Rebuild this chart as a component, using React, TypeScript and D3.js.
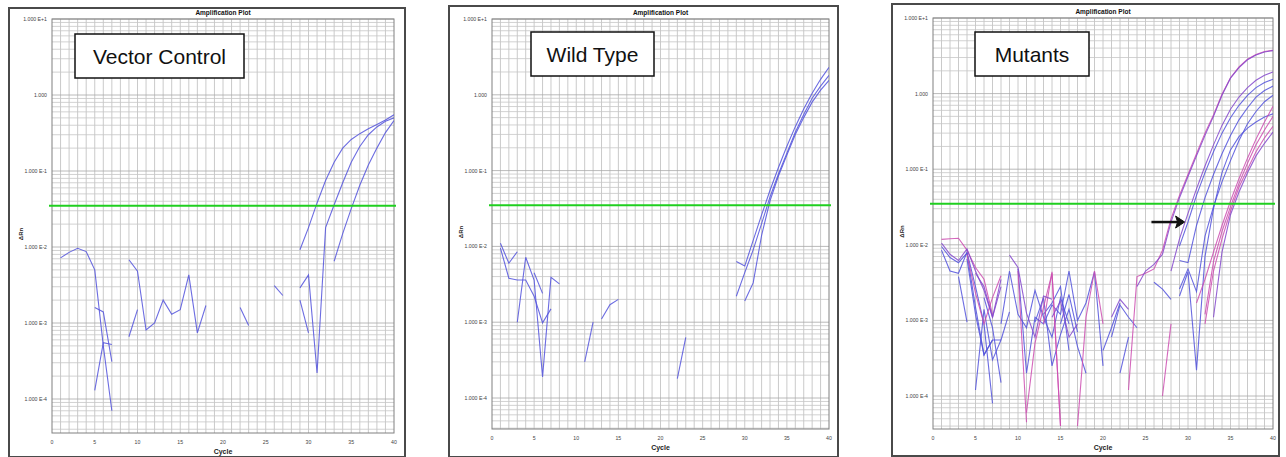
import React from 'react'
import * as d3 from 'd3'

// a segment = [first cycle, ΔRn values for consecutive cycles]
type Seg = [number, number[]]

const xTicks = [0, 5, 10, 15, 20, 25, 30, 35, 40]
const yDecades = [1e1, 1, 1e-1, 1e-2, 1e-3, 1e-4]
const yTickLabels = ['1.000 E+1', '1.000', '1.000 E-1', '1.000 E-2', '1.000 E-3', '1.000 E-4']
const threshold = 0.035

const vectorControlWells: Seg[][] = [
  [[1, [0.0072, 0.0085, 0.0096, 0.0087, 0.005, 0.0005, 0.00007]]],
  [[5, [0.00013, 0.00055, 0.00052]]],
  [[5, [0.0016, 0.0014, 0.00031]]],
  [[9, [0.0068, 0.0048, 0.00081, 0.001, 0.002, 0.0013, 0.0015, 0.0043, 0.00074, 0.0017]]],
  [[9, [0.00066, 0.0015]], [22, [0.0016, 0.00093]]],
  [[26, [0.0031, 0.0023]], [29, [0.002, 0.00074]]],
  [[29, [0.0029, 0.0043, 0.00022, 0.018, 0.036, 0.07, 0.13, 0.21, 0.3, 0.38, 0.45, 0.5]]],
  [[29, [0.0092, 0.018, 0.038, 0.075, 0.13, 0.2, 0.26, 0.31, 0.36, 0.41, 0.47, 0.55]]],
  [[33, [0.0065, 0.015, 0.032, 0.065, 0.12, 0.2, 0.32, 0.46]]],
]

const wildTypeWells: Seg[][] = [
  [[1, [0.011, 0.006, 0.0085]]],
  [[1, [0.0095, 0.0038, 0.0036, 0.0036, 0.0022, 0.00098, 0.0015]]],
  [[3, [0.001, 0.0072, 0.0036, 0.00019, 0.0039, 0.0032]]],
  [[5, [0.0045, 0.0024]], [11, [0.0003, 0.001]]],
  [[13, [0.0011, 0.0017, 0.002]], [22, [0.00018, 0.00063]]],
  [[29, [0.0063, 0.0055, 0.012, 0.026, 0.055, 0.11, 0.21, 0.38, 0.65, 1.05, 1.6, 2.3]]],
  [[29, [0.0022, 0.0045, 0.009, 0.02, 0.045, 0.09, 0.17, 0.32, 0.55, 0.9, 1.3, 1.8]]],
  [[30, [0.0019, 0.0033, 0.014, 0.04, 0.085, 0.16, 0.3, 0.5, 0.8, 1.15, 1.55]]],
]

const mutantBlueWells: Seg[][] = [
  [[1, [0.0085, 0.0045, 0.0042, 0.008, 0.0028, 0.0009, 0.00008]]],
  [[1, [0.0095, 0.0068, 0.0058, 0.0078, 0.0015, 0.00035, 0.00055]]],
  [[3, [0.0038, 0.00095]], [21, [0.0006, 0.0016, 0.0011, 0.0008]]],
  [[4, [0.0065, 0.0012, 0.00035, 0.00055, 0.00055]], [22, [0.0002, 0.0006]]],
  [[5, [0.00012, 0.0014, 0.0003, 0.00055]], [26, [0.0032, 0.0026, 0.0019]]],
  [[10, [0.0048, 0.0002, 0.0011, 0.0009, 0.0016, 0.0012, 0.0045, 0.001, 0.0017, 0.0044, 0.00025]],
    [29, [0.0096, 0.02, 0.045, 0.09, 0.17, 0.3, 0.48, 0.7, 0.95, 1.2, 1.4, 1.55]]],
  [[12, [0.00095, 0.002, 0.00025, 0.00065, 0.0014, 0.00045, 0.0002]],
    [29, [0.0062, 0.0058, 0.018, 0.042, 0.085, 0.16, 0.28, 0.45, 0.65, 0.9, 1.1, 1.26]]],
  [[13, [0.0012, 0.0017, 0.0028, 0.0004]],
    [29, [0.0021, 0.0044, 0.00022, 0.007, 0.03, 0.09, 0.18, 0.27, 0.35, 0.42, 0.49, 0.54]]],
  [[8, [0.00055, 0.0013]],
    [29, [0.0026, 0.0048, 0.0024, 0.013, 0.032, 0.068, 0.13, 0.24, 0.4, 0.58, 0.78, 0.95]]],
  [[8, [0.0009, 0.0045, 0.0012, 0.0008, 0.0025, 0.0011, 0.0006, 0.002, 0.0009]], [20, [0.0004, 0.0008, 0.0017]]],
  [[6, [0.002, 0.0008, 0.00015]], [15, [0.0009, 0.0022, 0.0007]]],
]

const mutantMagentaWells: Seg[][] = [
  [[1, [0.0118, 0.012, 0.0122, 0.0085, 0.005, 0.0035, 0.0012]],
    [31, [0.0017, 0.0035, 0.008, 0.018, 0.038, 0.075, 0.14, 0.25, 0.42, 0.68]]],
  [[4, [0.0075, 0.0023, 0.0009, 0.002, 0.0039]],
    [32, [0.0012, 0.006, 0.015, 0.032, 0.065, 0.12, 0.21, 0.33, 0.5]]],
  [[10, [0.0045, 0.000045]], [32, [0.0009, 0.0045, 0.012, 0.028, 0.058, 0.1, 0.17, 0.26, 0.37]]],
  [[11, [0.00006, 0.0005, 0.0015, 0.0042, 0.00004]], [27, [0.0001, 0.0009]]],
  [[13, [0.0009, 0.0044, 0.00004]], [17, [0.00004, 0.0011, 0.0045, 0.0009]]],
  [[23, [0.00012, 0.0038, 0.0042, 0.0048, 0.0085, 0.022, 0.045, 0.085, 0.16, 0.3, 0.52, 0.98, 1.62, 2.25, 2.85, 3.3, 3.6, 3.75]]],
]

const mutantPurpleWells: Seg[][] = [
  [[1, [0.0105, 0.0075, 0.0062, 0.0088, 0.0045, 0.0025, 0.0011, 0.0028]],
    [24, [0.0028, 0.0045, 0.0055, 0.0075, 0.02, 0.042, 0.08, 0.15, 0.28, 0.5, 0.95, 1.6, 2.2, 2.8, 3.25, 3.55, 3.7]]],
  [[5, [0.0042, 0.0028, 0.0011, 0.0035]],
    [28, [0.0045, 0.012, 0.026, 0.055, 0.11, 0.21, 0.38, 0.62, 0.9, 1.2, 1.5, 1.75, 1.93]]],
  [[9, [0.0073, 0.005, 0.00125, 0.0006, 0.0021, 0.0019]],
    [33, [0.0011, 0.008, 0.025, 0.05, 0.09, 0.15, 0.22, 0.31]]],
  [[14, [0.0011, 0.0018, 0.0006, 0.0009]], [21, [0.0011, 0.0019, 0.0014]]],
]

// arrow in the Mutants plot: points at this cycle / ΔRn
const arrowAt = { fromCycle: 25.7, toCycle: 29.6, value: 0.02 }

const BLUE = '#5252dc'
const MAGENTA = '#cc4cb0'
const PURPLE = '#8448cc'

const panels = [
  {
    id: 'vc', label: 'Vector Control',
    frame: { x0: 9, y0: 8, x1: 405, y1: 457 },
    plot: { left: 52, top: 19, right: 394, bottom: 433, yE4: 399 },
    box: { x0: 75, y0: 34, x1: 244, y1: 78 },
    groups: [{ color: BLUE, wells: vectorControlWells }],
  },
  {
    id: 'wt', label: 'Wild Type',
    frame: { x0: 449, y0: 6, x1: 838, y1: 457 },
    plot: { left: 492, top: 19, right: 829, bottom: 429, yE4: 398 },
    box: { x0: 531, y0: 32, x1: 654, y1: 76 },
    groups: [{ color: BLUE, wells: wildTypeWells }],
  },
  {
    id: 'mu', label: 'Mutants',
    frame: { x0: 892, y0: 4, x1: 1279, y1: 456 },
    plot: { left: 933, top: 18, right: 1273, bottom: 429, yE4: 396 },
    box: { x0: 975, y0: 32, x1: 1089, y1: 76 },
    groups: [
      { color: BLUE, wells: mutantBlueWells },
      { color: MAGENTA, wells: mutantMagentaWells },
      { color: PURPLE, wells: mutantPurpleWells },
    ],
    arrow: true,
  },
]

const FONT = '"Liberation Sans", Arial, sans-serif'

function Panel({ p }: { p: any }) {
  const { plot, frame, box } = p
  const x = d3.scaleLinear().domain([0, 40]).range([plot.left, plot.right])
  const y = d3.scaleLog().domain([1e-4, 10]).range([plot.yE4, plot.top])
  const line = d3.line<[number, number]>().x(d => x(d[0])).y(d => y(d[1]))

  const minor: number[] = []
  for (let k = -5; k <= 0; k++) {
    for (let m = 2; m <= 9; m++) {
      const v = m * Math.pow(10, k)
      if (y(v) < plot.bottom && y(v) > plot.top) minor.push(v)
    }
  }
  const cycleLines = d3.range(1, 40)
  const midY = (plot.top + plot.bottom) / 2 + 8

  return (
    <g>
      <rect x={frame.x0} y={frame.y0} width={frame.x1 - frame.x0} height={frame.y1 - frame.y0}
        fill="#fff" stroke="#4a4a4a" strokeWidth={2} />
      <clipPath id={`clip-${p.id}`}>
        <rect x={plot.left} y={plot.top} width={plot.right - plot.left} height={plot.bottom - plot.top} />
      </clipPath>
      {/* grid */}
      {cycleLines.map(c => (
        <line key={'v' + c} x1={x(c)} x2={x(c)} y1={plot.top} y2={plot.bottom} stroke="#bcbcbc" strokeWidth={0.8} />
      ))}
      {minor.map((v, i) => (
        <line key={'h' + i} x1={plot.left} x2={plot.right} y1={y(v)} y2={y(v)} stroke="#c6c6c6" strokeWidth={0.8} />
      ))}
      {yDecades.map(v => (
        <line key={'d' + v} x1={plot.left} x2={plot.right} y1={y(v)} y2={y(v)} stroke="#a8a8a8" strokeWidth={0.8} />
      ))}
      <rect x={plot.left} y={plot.top} width={plot.right - plot.left} height={plot.bottom - plot.top}
        fill="none" stroke="#808080" strokeWidth={1} />

      {/* amplification traces */}
      <g clipPath={`url(#clip-${p.id})`} fill="none">
        {p.groups.map((g: any, gi: number) =>
          g.wells.map((well: Seg[], wi: number) =>
            well.map(([start, vals], si) => (
              <path key={`${gi}-${wi}-${si}`}
                d={line(vals.map((v, i) => [start + i, v] as [number, number])) || ''}
                stroke={g.color} strokeWidth={1.1} strokeOpacity={0.85} />
            ))
          )
        )}
      </g>

      {/* threshold */}
      <line x1={plot.left - 3} x2={plot.right + 2} y1={y(threshold)} y2={y(threshold)} stroke="#1fcf1f" strokeWidth={2} />

      {/* axes text */}
      <text x={(plot.left + plot.right) / 2} y={plot.top - 4} textAnchor="middle" fontFamily={FONT}
        fontSize={6.5} fontWeight="bold" fill="#111">Amplification Plot</text>
      {yDecades.map((v, i) => (
        <text key={'yl' + v} x={plot.left - 5} y={y(v) + 2} textAnchor="end" fontFamily={FONT}
          fontSize={5.2} fill="#444">{yTickLabels[i]}</text>
      ))}
      {xTicks.map(t => (
        <text key={'xl' + t} x={x(t)} y={plot.bottom + 11} textAnchor="middle" fontFamily={FONT}
          fontSize={5.2} fill="#444">{t}</text>
      ))}
      <text x={(plot.left + plot.right) / 2} y={plot.bottom + 21} textAnchor="middle" fontFamily={FONT}
        fontSize={7} fontWeight="bold" fill="#222">Cycle</text>
      <text transform={`translate(${plot.left - 29},${midY}) rotate(-90)`} textAnchor="middle" fontFamily={FONT}
        fontSize={6} fontWeight="bold" fill="#222">ΔRn</text>

      {/* label box */}
      <rect x={box.x0} y={box.y0} width={box.x1 - box.x0} height={box.y1 - box.y0}
        fill="#fff" stroke="#111" strokeWidth={1.5} />
      <text x={(box.x0 + box.x1) / 2} y={(box.y0 + box.y1) / 2 + 7.5} textAnchor="middle"
        fontFamily={FONT} fontSize={21} fill="#111">{p.label}</text>

      {p.arrow && (
        <g>
          <line x1={x(arrowAt.fromCycle)} x2={x(arrowAt.toCycle) - 6} y1={y(arrowAt.value)} y2={y(arrowAt.value)}
            stroke="#111" strokeWidth={2.5} />
          <path d={`M${x(arrowAt.toCycle)},${y(arrowAt.value)} l-9,-6 l2,6 l-2,6 z`} fill="#111" stroke="#111" strokeWidth={1} />
        </g>
      )}
    </g>
  )
}

export default function App() {
  return (
    <svg width={1286} height={457} style={{ position: 'absolute', left: 0, top: 0, background: '#fff' }}>
      <rect width={1286} height={457} fill="#fff" />
      {panels.map(p => <Panel key={p.id} p={p} />)}
    </svg>
  )
}
